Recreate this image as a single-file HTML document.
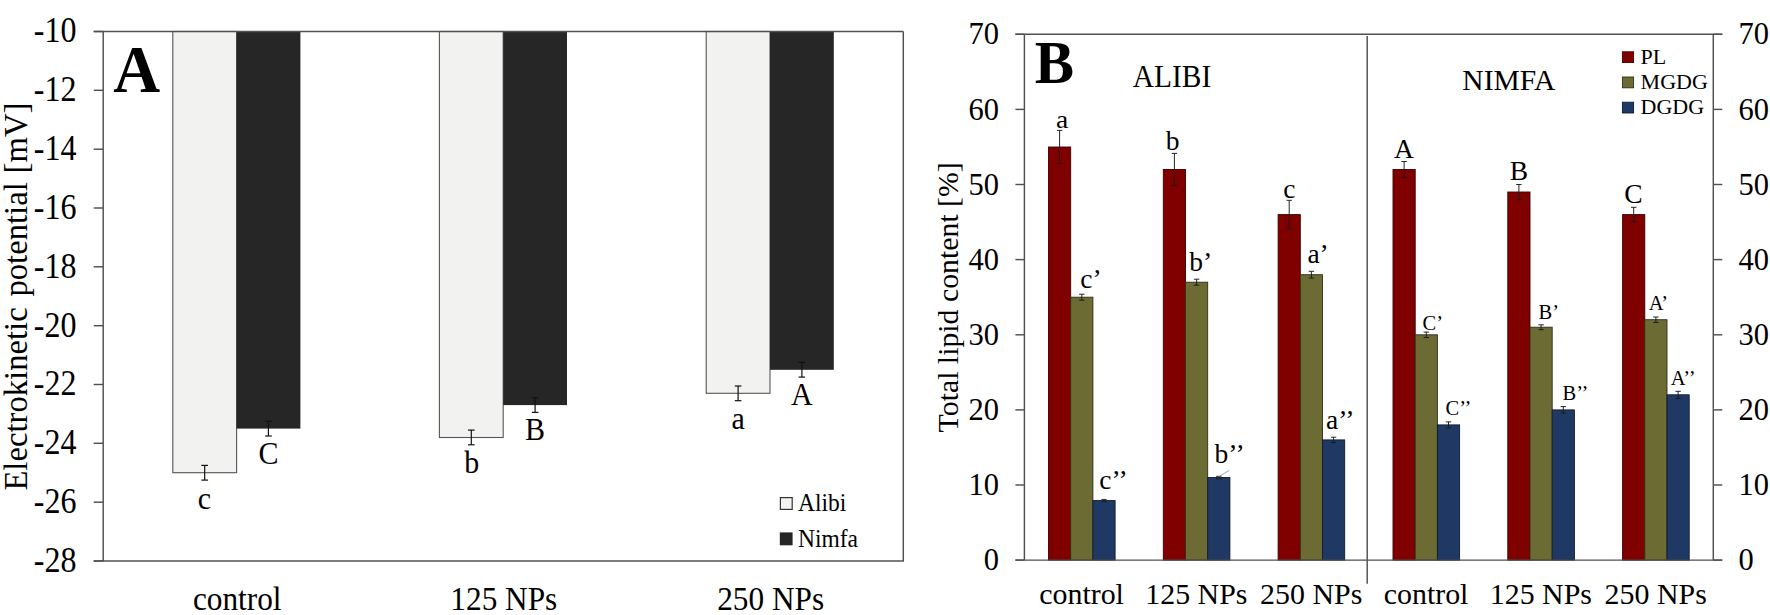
<!DOCTYPE html>
<html lang="en">
<head>
<meta charset="utf-8">
<title>Electrokinetic potential and total lipid content</title>
<style>
html,body{margin:0;padding:0;background:#fff;}
body{width:1770px;height:615px;overflow:hidden;}
svg{display:block;}
svg text{font-family:"Liberation Serif","Times New Roman",serif;fill:#000;}
</style>
</head>
<body>
<svg width="1770" height="615" viewBox="0 0 1770 615">
<rect x="0" y="0" width="1770" height="615" fill="#ffffff"/>
<rect x="172.8" y="31.5" width="63.8" height="441.2" fill="#f2f2f0" stroke="#555" stroke-width="1.1"/>
<rect x="236.6" y="31.5" width="63.8" height="397.1" fill="#262626"/>
<line x1="204.7" y1="465.4" x2="204.7" y2="480.1" stroke="#111" stroke-width="1.2"/>
<line x1="201.3" y1="465.4" x2="208.0" y2="465.4" stroke="#111" stroke-width="1.2"/>
<line x1="201.3" y1="480.1" x2="208.0" y2="480.1" stroke="#111" stroke-width="1.2"/>
<line x1="268.4" y1="421.3" x2="268.4" y2="436.0" stroke="#111" stroke-width="1.2"/>
<line x1="265.1" y1="421.3" x2="271.8" y2="421.3" stroke="#111" stroke-width="1.2"/>
<line x1="265.1" y1="436.0" x2="271.8" y2="436.0" stroke="#111" stroke-width="1.2"/>
<rect x="439.4" y="31.5" width="63.8" height="406.0" fill="#f2f2f0" stroke="#555" stroke-width="1.1"/>
<rect x="503.2" y="31.5" width="63.8" height="373.6" fill="#262626"/>
<line x1="471.3" y1="430.1" x2="471.3" y2="444.8" stroke="#111" stroke-width="1.2"/>
<line x1="468.0" y1="430.1" x2="474.6" y2="430.1" stroke="#111" stroke-width="1.2"/>
<line x1="468.0" y1="444.8" x2="474.6" y2="444.8" stroke="#111" stroke-width="1.2"/>
<line x1="535.1" y1="397.7" x2="535.1" y2="412.4" stroke="#111" stroke-width="1.2"/>
<line x1="531.9" y1="397.7" x2="538.4" y2="397.7" stroke="#111" stroke-width="1.2"/>
<line x1="531.9" y1="412.4" x2="538.4" y2="412.4" stroke="#111" stroke-width="1.2"/>
<rect x="706.2" y="31.5" width="63.8" height="361.8" fill="#f2f2f0" stroke="#555" stroke-width="1.1"/>
<rect x="770.0" y="31.5" width="63.8" height="338.3" fill="#262626"/>
<line x1="738.1" y1="386.0" x2="738.1" y2="400.7" stroke="#111" stroke-width="1.2"/>
<line x1="734.8" y1="386.0" x2="741.4" y2="386.0" stroke="#111" stroke-width="1.2"/>
<line x1="734.8" y1="400.7" x2="741.4" y2="400.7" stroke="#111" stroke-width="1.2"/>
<line x1="801.9" y1="362.4" x2="801.9" y2="377.1" stroke="#111" stroke-width="1.2"/>
<line x1="798.6" y1="362.4" x2="805.1" y2="362.4" stroke="#111" stroke-width="1.2"/>
<line x1="798.6" y1="377.1" x2="805.1" y2="377.1" stroke="#111" stroke-width="1.2"/>
<line x1="93.7" y1="31.5" x2="903.3" y2="31.5" stroke="#505050" stroke-width="1.45"/>
<line x1="93.7" y1="561.0" x2="903.9" y2="561.0" stroke="#505050" stroke-width="1.45"/>
<line x1="103.2" y1="31.5" x2="103.2" y2="561.0" stroke="#505050" stroke-width="1.45"/>
<line x1="903.3" y1="31.5" x2="903.3" y2="561.0" stroke="#505050" stroke-width="1.45"/>
<line x1="93.7" y1="31.5" x2="103.2" y2="31.5" stroke="#505050" stroke-width="1.45"/>
<text transform="translate(76.5,42.4) scale(1,1.095)" font-size="32" text-anchor="end">-10</text>
<line x1="93.7" y1="90.3" x2="103.2" y2="90.3" stroke="#505050" stroke-width="1.45"/>
<text transform="translate(76.5,101.2) scale(1,1.095)" font-size="32" text-anchor="end">-12</text>
<line x1="93.7" y1="149.2" x2="103.2" y2="149.2" stroke="#505050" stroke-width="1.45"/>
<text transform="translate(76.5,160.1) scale(1,1.095)" font-size="32" text-anchor="end">-14</text>
<line x1="93.7" y1="208.0" x2="103.2" y2="208.0" stroke="#505050" stroke-width="1.45"/>
<text transform="translate(76.5,218.9) scale(1,1.095)" font-size="32" text-anchor="end">-16</text>
<line x1="93.7" y1="266.8" x2="103.2" y2="266.8" stroke="#505050" stroke-width="1.45"/>
<text transform="translate(76.5,277.7) scale(1,1.095)" font-size="32" text-anchor="end">-18</text>
<line x1="93.7" y1="325.7" x2="103.2" y2="325.7" stroke="#505050" stroke-width="1.45"/>
<text transform="translate(76.5,336.6) scale(1,1.095)" font-size="32" text-anchor="end">-20</text>
<line x1="93.7" y1="384.5" x2="103.2" y2="384.5" stroke="#505050" stroke-width="1.45"/>
<text transform="translate(76.5,395.4) scale(1,1.095)" font-size="32" text-anchor="end">-22</text>
<line x1="93.7" y1="443.3" x2="103.2" y2="443.3" stroke="#505050" stroke-width="1.45"/>
<text transform="translate(76.5,454.2) scale(1,1.095)" font-size="32" text-anchor="end">-24</text>
<line x1="93.7" y1="502.2" x2="103.2" y2="502.2" stroke="#505050" stroke-width="1.45"/>
<text transform="translate(76.5,513.1) scale(1,1.095)" font-size="32" text-anchor="end">-26</text>
<line x1="93.7" y1="561.0" x2="103.2" y2="561.0" stroke="#505050" stroke-width="1.45"/>
<text transform="translate(76.5,571.9) scale(1,1.095)" font-size="32" text-anchor="end">-28</text>
<text transform="translate(204.5,508.6) scale(1,1.07)" font-size="30" text-anchor="middle">c</text>
<text transform="translate(268.5,464.3) scale(1,1.07)" font-size="30" text-anchor="middle">C</text>
<text transform="translate(471.8,472.9) scale(1,1.07)" font-size="30" text-anchor="middle">b</text>
<text transform="translate(535.0,439.9) scale(1,1.07)" font-size="30" text-anchor="middle">B</text>
<text transform="translate(738.2,428.5) scale(1,1.07)" font-size="30" text-anchor="middle">a</text>
<text transform="translate(801.7,405.1) scale(1,1.07)" font-size="30" text-anchor="middle">A</text>
<text transform="translate(136.8,92.0) scale(1,1.047)" font-size="65" text-anchor="middle" font-weight="bold">A</text>
<text transform="translate(237.2,610.1) scale(1,1.065)" font-size="31.3" text-anchor="middle">control</text>
<text transform="translate(503.8,610.1) scale(1,1.065)" font-size="31.3" text-anchor="middle">125 NPs</text>
<text transform="translate(770.6,610.1) scale(1,1.065)" font-size="31.3" text-anchor="middle">250 NPs</text>
<rect x="780.4" y="497.6" width="11.8" height="11.8" fill="#f2f2f0" stroke="#333" stroke-width="1.2"/>
<rect x="779.8" y="532.4" width="12.8" height="12.9" fill="#262626"/>
<text transform="translate(798.0,511.4) scale(1,1.1)" font-size="23.5" text-anchor="start">Alibi</text>
<text transform="translate(798.0,547.0) scale(1,1.1)" font-size="23.5" text-anchor="start">Nimfa</text>
<text transform="translate(26.5,296.6) rotate(-90)" font-size="32.7" word-spacing="2.5" text-anchor="middle">Electrokinetic potential<tspan dx="-1.8"> [mV]</tspan></text>
<rect x="1048.5" y="147.0" width="22.2" height="413.1" fill="#800000" stroke="#3c0000" stroke-width="0.9"/>
<rect x="1070.7" y="297.2" width="22.2" height="262.9" fill="#6b6b33" stroke="#2f2f16" stroke-width="0.9"/>
<rect x="1092.9" y="500.6" width="22.2" height="59.5" fill="#203864" stroke="#0f1b33" stroke-width="0.9"/>
<line x1="1059.6" y1="130.4" x2="1059.6" y2="163.5" stroke="#1a1a1a" stroke-width="0.95"/>
<line x1="1056.9" y1="130.4" x2="1062.3" y2="130.4" stroke="#1a1a1a" stroke-width="0.95"/>
<line x1="1056.9" y1="163.5" x2="1062.3" y2="163.5" stroke="#1a1a1a" stroke-width="0.95"/>
<line x1="1081.8" y1="294.2" x2="1081.8" y2="300.2" stroke="#1a1a1a" stroke-width="0.95"/>
<line x1="1079.1" y1="294.2" x2="1084.5" y2="294.2" stroke="#1a1a1a" stroke-width="0.95"/>
<line x1="1079.1" y1="300.2" x2="1084.5" y2="300.2" stroke="#1a1a1a" stroke-width="0.95"/>
<line x1="1104.0" y1="499.6" x2="1104.0" y2="501.6" stroke="#1a1a1a" stroke-width="0.95"/>
<line x1="1101.3" y1="499.6" x2="1106.7" y2="499.6" stroke="#1a1a1a" stroke-width="0.95"/>
<line x1="1101.3" y1="501.6" x2="1106.7" y2="501.6" stroke="#1a1a1a" stroke-width="0.95"/>
<rect x="1163.3" y="169.5" width="22.2" height="390.6" fill="#800000" stroke="#3c0000" stroke-width="0.9"/>
<rect x="1185.5" y="282.2" width="22.2" height="277.9" fill="#6b6b33" stroke="#2f2f16" stroke-width="0.9"/>
<rect x="1207.7" y="477.5" width="22.2" height="82.6" fill="#203864" stroke="#0f1b33" stroke-width="0.9"/>
<line x1="1174.4" y1="153.4" x2="1174.4" y2="185.7" stroke="#1a1a1a" stroke-width="0.95"/>
<line x1="1171.7" y1="153.4" x2="1177.1" y2="153.4" stroke="#1a1a1a" stroke-width="0.95"/>
<line x1="1171.7" y1="185.7" x2="1177.1" y2="185.7" stroke="#1a1a1a" stroke-width="0.95"/>
<line x1="1196.6" y1="279.2" x2="1196.6" y2="285.2" stroke="#1a1a1a" stroke-width="0.95"/>
<line x1="1193.9" y1="279.2" x2="1199.3" y2="279.2" stroke="#1a1a1a" stroke-width="0.95"/>
<line x1="1193.9" y1="285.2" x2="1199.3" y2="285.2" stroke="#1a1a1a" stroke-width="0.95"/>
<line x1="1218.8" y1="476.3" x2="1218.8" y2="478.7" stroke="#1a1a1a" stroke-width="0.95"/>
<line x1="1216.1" y1="476.3" x2="1221.5" y2="476.3" stroke="#1a1a1a" stroke-width="0.95"/>
<line x1="1216.1" y1="478.7" x2="1221.5" y2="478.7" stroke="#1a1a1a" stroke-width="0.95"/>
<rect x="1278.1" y="214.6" width="22.2" height="345.5" fill="#800000" stroke="#3c0000" stroke-width="0.9"/>
<rect x="1300.3" y="274.7" width="22.2" height="285.4" fill="#6b6b33" stroke="#2f2f16" stroke-width="0.9"/>
<rect x="1322.5" y="439.9" width="22.2" height="120.2" fill="#203864" stroke="#0f1b33" stroke-width="0.9"/>
<line x1="1289.2" y1="200.3" x2="1289.2" y2="228.8" stroke="#1a1a1a" stroke-width="0.95"/>
<line x1="1286.5" y1="200.3" x2="1291.9" y2="200.3" stroke="#1a1a1a" stroke-width="0.95"/>
<line x1="1286.5" y1="228.8" x2="1291.9" y2="228.8" stroke="#1a1a1a" stroke-width="0.95"/>
<line x1="1311.4" y1="271.3" x2="1311.4" y2="278.0" stroke="#1a1a1a" stroke-width="0.95"/>
<line x1="1308.7" y1="271.3" x2="1314.1" y2="271.3" stroke="#1a1a1a" stroke-width="0.95"/>
<line x1="1308.7" y1="278.0" x2="1314.1" y2="278.0" stroke="#1a1a1a" stroke-width="0.95"/>
<line x1="1333.6" y1="437.2" x2="1333.6" y2="442.6" stroke="#1a1a1a" stroke-width="0.95"/>
<line x1="1330.9" y1="437.2" x2="1336.3" y2="437.2" stroke="#1a1a1a" stroke-width="0.95"/>
<line x1="1330.9" y1="442.6" x2="1336.3" y2="442.6" stroke="#1a1a1a" stroke-width="0.95"/>
<rect x="1393.0" y="169.5" width="22.2" height="390.6" fill="#800000" stroke="#3c0000" stroke-width="0.9"/>
<rect x="1415.2" y="334.8" width="22.2" height="225.3" fill="#6b6b33" stroke="#2f2f16" stroke-width="0.9"/>
<rect x="1437.4" y="424.9" width="22.2" height="135.2" fill="#203864" stroke="#0f1b33" stroke-width="0.9"/>
<line x1="1404.1" y1="161.5" x2="1404.1" y2="177.5" stroke="#1a1a1a" stroke-width="0.95"/>
<line x1="1401.4" y1="161.5" x2="1406.8" y2="161.5" stroke="#1a1a1a" stroke-width="0.95"/>
<line x1="1401.4" y1="177.5" x2="1406.8" y2="177.5" stroke="#1a1a1a" stroke-width="0.95"/>
<line x1="1426.3" y1="332.1" x2="1426.3" y2="337.5" stroke="#1a1a1a" stroke-width="0.95"/>
<line x1="1423.6" y1="332.1" x2="1429.0" y2="332.1" stroke="#1a1a1a" stroke-width="0.95"/>
<line x1="1423.6" y1="337.5" x2="1429.0" y2="337.5" stroke="#1a1a1a" stroke-width="0.95"/>
<line x1="1448.5" y1="421.9" x2="1448.5" y2="427.9" stroke="#1a1a1a" stroke-width="0.95"/>
<line x1="1445.8" y1="421.9" x2="1451.2" y2="421.9" stroke="#1a1a1a" stroke-width="0.95"/>
<line x1="1445.8" y1="427.9" x2="1451.2" y2="427.9" stroke="#1a1a1a" stroke-width="0.95"/>
<rect x="1507.8" y="192.0" width="22.2" height="368.1" fill="#800000" stroke="#3c0000" stroke-width="0.9"/>
<rect x="1530.0" y="327.2" width="22.2" height="232.9" fill="#6b6b33" stroke="#2f2f16" stroke-width="0.9"/>
<rect x="1552.2" y="409.9" width="22.2" height="150.2" fill="#203864" stroke="#0f1b33" stroke-width="0.9"/>
<line x1="1518.9" y1="184.5" x2="1518.9" y2="199.6" stroke="#1a1a1a" stroke-width="0.95"/>
<line x1="1516.2" y1="184.5" x2="1521.6" y2="184.5" stroke="#1a1a1a" stroke-width="0.95"/>
<line x1="1516.2" y1="199.6" x2="1521.6" y2="199.6" stroke="#1a1a1a" stroke-width="0.95"/>
<line x1="1541.1" y1="324.8" x2="1541.1" y2="329.7" stroke="#1a1a1a" stroke-width="0.95"/>
<line x1="1538.4" y1="324.8" x2="1543.8" y2="324.8" stroke="#1a1a1a" stroke-width="0.95"/>
<line x1="1538.4" y1="329.7" x2="1543.8" y2="329.7" stroke="#1a1a1a" stroke-width="0.95"/>
<line x1="1563.3" y1="406.6" x2="1563.3" y2="413.1" stroke="#1a1a1a" stroke-width="0.95"/>
<line x1="1560.6" y1="406.6" x2="1566.0" y2="406.6" stroke="#1a1a1a" stroke-width="0.95"/>
<line x1="1560.6" y1="413.1" x2="1566.0" y2="413.1" stroke="#1a1a1a" stroke-width="0.95"/>
<rect x="1622.6" y="214.6" width="22.2" height="345.5" fill="#800000" stroke="#3c0000" stroke-width="0.9"/>
<rect x="1644.8" y="319.7" width="22.2" height="240.4" fill="#6b6b33" stroke="#2f2f16" stroke-width="0.9"/>
<rect x="1667.0" y="394.8" width="22.2" height="165.3" fill="#203864" stroke="#0f1b33" stroke-width="0.9"/>
<line x1="1633.7" y1="207.3" x2="1633.7" y2="221.9" stroke="#1a1a1a" stroke-width="0.95"/>
<line x1="1631.0" y1="207.3" x2="1636.4" y2="207.3" stroke="#1a1a1a" stroke-width="0.95"/>
<line x1="1631.0" y1="221.9" x2="1636.4" y2="221.9" stroke="#1a1a1a" stroke-width="0.95"/>
<line x1="1655.9" y1="317.0" x2="1655.9" y2="322.4" stroke="#1a1a1a" stroke-width="0.95"/>
<line x1="1653.2" y1="317.0" x2="1658.6" y2="317.0" stroke="#1a1a1a" stroke-width="0.95"/>
<line x1="1653.2" y1="322.4" x2="1658.6" y2="322.4" stroke="#1a1a1a" stroke-width="0.95"/>
<line x1="1678.1" y1="391.3" x2="1678.1" y2="398.4" stroke="#1a1a1a" stroke-width="0.95"/>
<line x1="1675.4" y1="391.3" x2="1680.8" y2="391.3" stroke="#1a1a1a" stroke-width="0.95"/>
<line x1="1675.4" y1="398.4" x2="1680.8" y2="398.4" stroke="#1a1a1a" stroke-width="0.95"/>
<line x1="1218.6" y1="477.0" x2="1229.0" y2="470.4" stroke="#8a8a8a" stroke-width="0.8"/>
<line x1="1015.4" y1="34.3" x2="1722.3" y2="34.3" stroke="#505050" stroke-width="1.45"/>
<line x1="1015.4" y1="560.1" x2="1722.3" y2="560.1" stroke="#505050" stroke-width="1.45"/>
<line x1="1024.4" y1="34.3" x2="1024.4" y2="560.1" stroke="#505050" stroke-width="1.45"/>
<line x1="1713.3" y1="34.3" x2="1713.3" y2="560.1" stroke="#505050" stroke-width="1.45"/>
<line x1="1367.2" y1="36.0" x2="1367.2" y2="583.8" stroke="#505050" stroke-width="1.45"/>
<line x1="1015.4" y1="560.1" x2="1024.4" y2="560.1" stroke="#505050" stroke-width="1.45"/>
<line x1="1713.3" y1="560.1" x2="1722.3" y2="560.1" stroke="#505050" stroke-width="1.45"/>
<text x="999.1" y="570.2" font-size="30.5" text-anchor="end">0</text>
<text x="1738.4" y="570.2" font-size="30.5" text-anchor="start">0</text>
<line x1="1015.4" y1="485.0" x2="1024.4" y2="485.0" stroke="#505050" stroke-width="1.45"/>
<line x1="1713.3" y1="485.0" x2="1722.3" y2="485.0" stroke="#505050" stroke-width="1.45"/>
<text x="999.1" y="495.1" font-size="30.5" text-anchor="end">10</text>
<text x="1738.4" y="495.1" font-size="30.5" text-anchor="start">10</text>
<line x1="1015.4" y1="409.9" x2="1024.4" y2="409.9" stroke="#505050" stroke-width="1.45"/>
<line x1="1713.3" y1="409.9" x2="1722.3" y2="409.9" stroke="#505050" stroke-width="1.45"/>
<text x="999.1" y="420.0" font-size="30.5" text-anchor="end">20</text>
<text x="1738.4" y="420.0" font-size="30.5" text-anchor="start">20</text>
<line x1="1015.4" y1="334.8" x2="1024.4" y2="334.8" stroke="#505050" stroke-width="1.45"/>
<line x1="1713.3" y1="334.8" x2="1722.3" y2="334.8" stroke="#505050" stroke-width="1.45"/>
<text x="999.1" y="344.9" font-size="30.5" text-anchor="end">30</text>
<text x="1738.4" y="344.9" font-size="30.5" text-anchor="start">30</text>
<line x1="1015.4" y1="259.6" x2="1024.4" y2="259.6" stroke="#505050" stroke-width="1.45"/>
<line x1="1713.3" y1="259.6" x2="1722.3" y2="259.6" stroke="#505050" stroke-width="1.45"/>
<text x="999.1" y="269.7" font-size="30.5" text-anchor="end">40</text>
<text x="1738.4" y="269.7" font-size="30.5" text-anchor="start">40</text>
<line x1="1015.4" y1="184.5" x2="1024.4" y2="184.5" stroke="#505050" stroke-width="1.45"/>
<line x1="1713.3" y1="184.5" x2="1722.3" y2="184.5" stroke="#505050" stroke-width="1.45"/>
<text x="999.1" y="194.6" font-size="30.5" text-anchor="end">50</text>
<text x="1738.4" y="194.6" font-size="30.5" text-anchor="start">50</text>
<line x1="1015.4" y1="109.4" x2="1024.4" y2="109.4" stroke="#505050" stroke-width="1.45"/>
<line x1="1713.3" y1="109.4" x2="1722.3" y2="109.4" stroke="#505050" stroke-width="1.45"/>
<text x="999.1" y="119.5" font-size="30.5" text-anchor="end">60</text>
<text x="1738.4" y="119.5" font-size="30.5" text-anchor="start">60</text>
<line x1="1015.4" y1="34.3" x2="1024.4" y2="34.3" stroke="#505050" stroke-width="1.45"/>
<line x1="1713.3" y1="34.3" x2="1722.3" y2="34.3" stroke="#505050" stroke-width="1.45"/>
<text x="999.1" y="44.4" font-size="30.5" text-anchor="end">70</text>
<text x="1738.4" y="44.4" font-size="30.5" text-anchor="start">70</text>
<text x="1081.6" y="604.4" font-size="29.9" text-anchor="middle">control</text>
<text x="1196.4" y="604.4" font-size="29.9" text-anchor="middle">125 NPs</text>
<text x="1311.2" y="604.4" font-size="29.9" text-anchor="middle">250 NPs</text>
<text x="1426.1" y="604.4" font-size="29.9" text-anchor="middle">control</text>
<text x="1540.9" y="604.4" font-size="29.9" text-anchor="middle">125 NPs</text>
<text x="1655.7" y="604.4" font-size="29.9" text-anchor="middle">250 NPs</text>
<text transform="translate(1054.5,82.9) scale(1,1.035)" font-size="59" text-anchor="middle" font-weight="bold">B</text>
<text transform="translate(1172.0,86.5) scale(1,1.04)" font-size="29.4" text-anchor="middle">ALIBI</text>
<text x="1508.8" y="90.4" font-size="29.5" text-anchor="middle">NIMFA</text>
<rect x="1622.4" y="51.8" width="11.2" height="10.8" fill="#800000" stroke="#3c0000" stroke-width="0.9"/>
<text x="1640.6" y="64.0" font-size="22" text-anchor="start">PL</text>
<rect x="1622.4" y="77.0" width="11.2" height="10.8" fill="#6b6b33" stroke="#2f2f16" stroke-width="0.9"/>
<text x="1640.6" y="89.0" font-size="22" text-anchor="start">MGDG</text>
<rect x="1622.4" y="102.2" width="11.2" height="10.8" fill="#203864" stroke="#0f1b33" stroke-width="0.9"/>
<text x="1640.6" y="114.0" font-size="22" text-anchor="start">DGDG</text>
<text transform="translate(1062.0,127.9) scale(1,0.92)" font-size="27.5" text-anchor="middle">a</text>
<text x="1172.7" y="150.3" font-size="27.5" text-anchor="middle">b</text>
<text x="1289.3" y="197.6" font-size="27.5" text-anchor="middle">c</text>
<text x="1080.2" y="287.6" font-size="27.5" text-anchor="start">c’</text>
<text x="1189.2" y="271.0" font-size="27.5" text-anchor="start">b’</text>
<text x="1307.4" y="263.0" font-size="27.5" text-anchor="start">a’</text>
<text x="1099.2" y="489.4" font-size="27.5" text-anchor="start">c’’</text>
<text x="1214.6" y="463.0" font-size="27.5" text-anchor="start">b’’</text>
<text x="1326.0" y="428.6" font-size="27.5" text-anchor="start">a’’</text>
<text x="1404.0" y="158.0" font-size="27.5" text-anchor="middle">A</text>
<text x="1519.0" y="180.0" font-size="27.5" text-anchor="middle">B</text>
<text x="1633.5" y="203.0" font-size="27.5" text-anchor="middle">C</text>
<text x="1422.6" y="329.6" font-size="20.5" text-anchor="start">C’</text>
<text x="1538.6" y="319.0" font-size="20.5" text-anchor="start">B’</text>
<text x="1648.8" y="310.0" font-size="20.5" text-anchor="start">A’</text>
<text x="1445.6" y="415.4" font-size="20.5" text-anchor="start">C’’</text>
<text x="1562.6" y="400.0" font-size="20.5" text-anchor="start">B’’</text>
<text x="1670.8" y="385.4" font-size="20.5" text-anchor="start">A’’</text>
<text transform="translate(957.8,297.3) rotate(-90)" font-size="29.8" text-anchor="middle">Total lipid content [%]</text>
</svg>
</body>
</html>
